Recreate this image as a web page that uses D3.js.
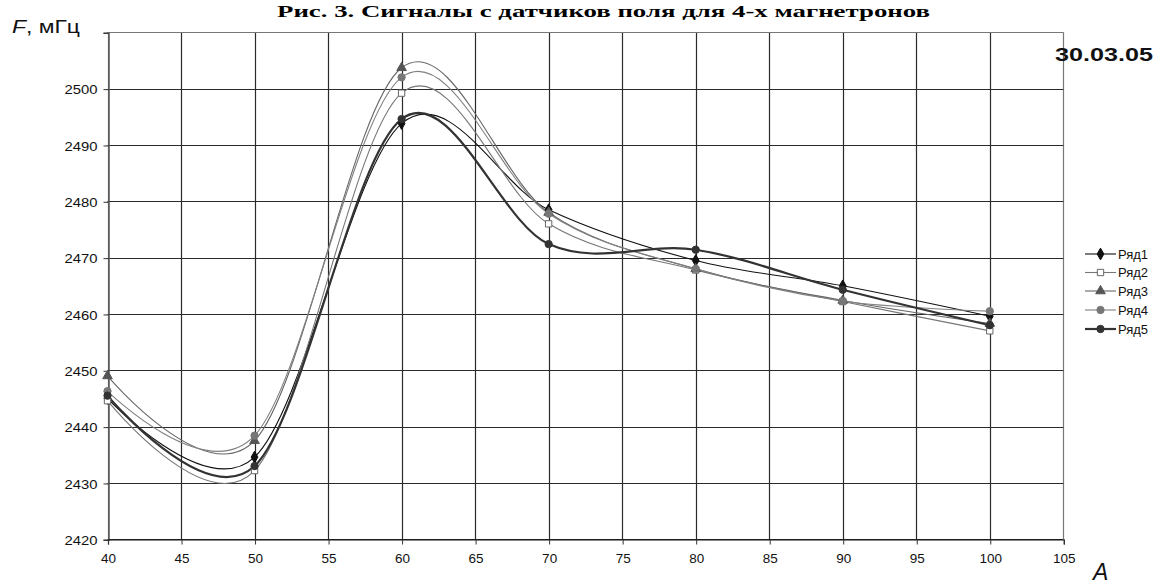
<!DOCTYPE html>
<html><head><meta charset="utf-8">
<script src="https://cdn.jsdelivr.net/npm/d3@7"></script>
<style>
html,body{margin:0;padding:0;background:#fff;}
svg{display:block;}
text{font-family:Arial,"Liberation Sans",sans-serif;}
</style></head>
<body>
<script>
const xValues = [40, 50, 60, 70, 80, 90, 100];
const seriesNames = ["Ряд1", "Ряд2", "Ряд3", "Ряд4", "Ряд5"];
const ryad1 = [2445.0, 2434.6, 2493.8, 2478.5, 2469.5, 2465.0, 2459.6];
const ryad2 = [2444.6, 2432.2, 2499.2, 2476.0, 2467.8, 2462.2, 2457.0];
const ryad3 = [2449.0, 2437.5, 2503.7, 2478.0, 2468.0, 2462.4, 2458.3];
const ryad4 = [2446.3, 2438.4, 2502.0, 2477.8, 2468.0, 2462.3, 2460.5];
const ryad5 = [2445.5, 2433.0, 2494.6, 2472.4, 2471.4, 2464.3, 2458.0];
const xTicks = [40, 45, 50, 55, 60, 65, 70, 75, 80, 85, 90, 95, 100, 105];
const yTicks = [2420, 2430, 2440, 2450, 2460, 2470, 2480, 2490, 2500, 2510];
const yTickLabels = ["2420", "2430", "2440", "2450", "2460", "2470", "2480", "2490", "2500", ""];
const titleText = "Рис. 3. Сигналы с датчиков поля для 4-х магнетронов";

const W = 1168, H = 585;
const L = 107.5, R = 1063.3, T = 32.3, B = 539.3;

const svg = d3.select("body").append("svg").attr("width", W).attr("height", H);
const x = d3.scaleLinear().domain([40, 105]).range([L, R]);
const y = d3.scaleLinear().domain([2420, 2510]).range([B, T]);

// gridlines
const g = svg.append("g");
g.selectAll("line.v").data(xTicks).enter().append("line")
  .attr("x1", d => Math.round(x(d)) + 0.5).attr("x2", d => Math.round(x(d)) + 0.5)
  .attr("y1", T).attr("y2", B).attr("stroke", d => (d === 40 || d === 105) ? "#777" : "#2a2a2a").attr("stroke-width", 1.2);
g.selectAll("line.h").data(yTicks).enter().append("line")
  .attr("x1", L).attr("x2", R)
  .attr("y1", d => Math.round(y(d)) + 0.5).attr("y2", d => Math.round(y(d)) + 0.5)
  .attr("stroke", d => d === 2510 ? "#777" : "#2a2a2a").attr("stroke-width", 1.2);

// axes
const yAxis = d3.axisLeft(y).tickValues(yTicks).tickSize(5).tickFormat((d, i) => yTickLabels[i]).tickPadding(6);
const ya = svg.append("g").attr("transform", `translate(${Math.round(L) + 0.5},0.5)`).call(yAxis);
ya.select(".domain").attr("stroke", "#555").attr("stroke-width", 1.5);
ya.selectAll(".tick line").attr("stroke", "#333");
ya.selectAll("text").attr("font-size", 13).attr("fill", "#111").attr("textLength", 33).attr("lengthAdjust", "spacingAndGlyphs").attr("dy", "0.36em");

const xAxis = d3.axisBottom(x).tickValues(xTicks).tickSize(5).tickFormat(d3.format("d")).tickPadding(6);
const xa = svg.append("g").attr("transform", `translate(0.5,${Math.round(B) + 0.5})`).call(xAxis);
xa.select(".domain").attr("stroke", "#111").attr("stroke-width", 1.2);
xa.selectAll(".tick line").attr("stroke", "#333");
xa.selectAll("text").attr("font-size", 13.5).attr("fill", "#111").attr("dy", "0.9em");

// series
const styles = [
  {name: seriesNames[0], vals: ryad1, line: "#111", lw: 1.1, marker: "diamond", fill: "#111", stroke: "#111"},
  {name: seriesNames[1], vals: ryad2, line: "#777", lw: 1.1, marker: "square", fill: "#fff", stroke: "#666"},
  {name: seriesNames[2], vals: ryad3, line: "#666", lw: 1.1, marker: "triangle", fill: "#555", stroke: "#555"},
  {name: seriesNames[3], vals: ryad4, line: "#808080", lw: 1.1, marker: "circle", fill: "#777", stroke: "#777"},
  {name: seriesNames[4], vals: ryad5, line: "#333", lw: 2.2, marker: "circle", fill: "#333", stroke: "#333"}
];
const symMap = {diamond: d3.symbolDiamond, square: d3.symbolSquare, triangle: d3.symbolTriangle, circle: d3.symbolCircle};
const symSize = {diamond: 40, square: 40, triangle: 40, circle: 42};

const lineGen = d3.line().x(d => x(d[0])).y(d => y(d[1])).curve(d3.curveCatmullRom.alpha(0));
const plot = svg.append("g");
styles.forEach(s => {
  const pts = xValues.map((xv, i) => [xv, s.vals[i]]);
  plot.append("path").datum(pts).attr("d", lineGen).attr("fill", "none")
    .attr("stroke", s.line).attr("stroke-width", s.lw);
});
styles.forEach(s => {
  const pts = xValues.map((xv, i) => [xv, s.vals[i]]);
  plot.selectAll(null).data(pts).enter().append("path")
    .attr("d", d3.symbol().type(symMap[s.marker]).size(symSize[s.marker]))
    .attr("transform", d => `translate(${x(d[0])},${y(d[1])})`)
    .attr("fill", s.fill).attr("stroke", s.stroke).attr("stroke-width", 1);
});

// legend
const legY = [254, 272.5, 291, 310, 329];
const leg = svg.append("g");
styles.forEach((s, i) => {
  leg.append("line").attr("x1", 1085).attr("x2", 1116).attr("y1", legY[i]).attr("y2", legY[i])
    .attr("stroke", s.line).attr("stroke-width", s.lw);
  leg.append("path").attr("d", d3.symbol().type(symMap[s.marker]).size(symSize[s.marker]))
    .attr("transform", `translate(1100.5,${legY[i]})`)
    .attr("fill", s.fill).attr("stroke", s.stroke).attr("stroke-width", 1);
  leg.append("text").attr("x", 1118).attr("y", legY[i]).attr("dy", "0.36em")
    .attr("font-size", 13).attr("fill", "#111").text(s.name);
});

// title
svg.append("text").attr("x", 603.5).attr("y", 17).attr("text-anchor", "middle")
  .style("font-family", "'Liberation Serif','Times New Roman',serif").style("font-weight", "bold")
  .style("font-size", "17px").attr("fill", "#000")
  .attr("textLength", 653).attr("lengthAdjust", "spacingAndGlyphs").text(titleText);

// axis name F
const fl = svg.append("text").attr("x", 12).attr("y", 33).attr("font-size", 18).attr("fill", "#111")
  .attr("textLength", 68).attr("lengthAdjust", "spacingAndGlyphs");
fl.append("tspan").attr("font-style", "italic").text("F");
fl.append("tspan").text(", мГц");

// date
svg.append("text").attr("x", 1055).attr("y", 61).attr("font-size", 19).attr("font-weight", "bold")
  .attr("fill", "#111").attr("textLength", 98).attr("lengthAdjust", "spacingAndGlyphs").text("30.03.05");

// A
svg.append("text").attr("x", 1093).attr("y", 580).attr("font-size", 23).attr("font-style", "italic")
  .attr("fill", "#111").text("A");
</script>
</body></html>
